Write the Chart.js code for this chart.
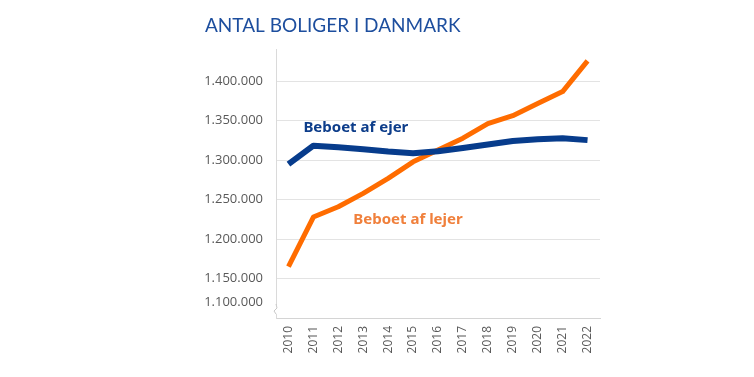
<!DOCTYPE html>
<html>
<head>
<meta charset="utf-8">
<script src="https://cdn.jsdelivr.net/npm/chart.js@4"></script>
<style>
  html, body { margin: 0; padding: 0; background: #fff; }
  #wrap { width: 754px; height: 377px; }
</style>
</head>
<body>
<div id="wrap"><canvas id="boligChart" width="754" height="377"></canvas></div>
<script>
const years = ["2010", "2011", "2012", "2013", "2014", "2015", "2016", "2017", "2018", "2019", "2020", "2021", "2022"];
const ejer = [1295000, 1318500, 1316500, 1314000, 1311000, 1309000, 1311500, 1315500, 1320000, 1324500, 1326500, 1328000, 1325500];
const lejer = [1165000, 1228000, 1241000, 1258000, 1277000, 1298000, 1313000, 1328000, 1346500, 1356500, 1372000, 1387000, 1426000];
const yTicks = [1150000, 1200000, 1250000, 1300000, 1350000, 1400000];
// the axis is broken below 1.150.000, the 1.100.000 label sits just under it
const breakTick = 1120000;
const breakLabel = "1.100.000";

const BLUE = "#073c8c";
const ORANGE = "#ff6c00";

function danishNumber(v) {
    return v.toString().replace(/\B(?=(\d{3})+(?!\d))/g, ".");
}

// series names written next to the lines, plus the little zigzag on the axis
const labelsPlugin = {
    id: 'seriesLabels',
    afterDatasetsDraw(chart) {
        const ctx = chart.ctx;
        const x = chart.scales.x;
        const y = chart.scales.y;
        ctx.save();
        ctx.textBaseline = 'middle';
        ctx.textAlign = 'left';
        ctx.font = 'bold 15px "Noto Sans"';
        ctx.fillStyle = "#0d3d8a";
        ctx.fillText("Beboet af ejer", x.getPixelForValue(1) - 10, y.getPixelForValue(1341000));
        ctx.fillStyle = "#f0803c";
        ctx.fillText("Beboet af lejer", x.getPixelForValue(2) + 15, y.getPixelForValue(1224000));

        // axis break
        const ax = chart.chartArea.left;
        const by = chart.chartArea.bottom - 8;
        ctx.fillStyle = "#fff";
        ctx.fillRect(ax - 3, by - 5, 6, 9);
        ctx.strokeStyle = "#c8c8c8";
        ctx.lineWidth = 1;
        ctx.beginPath();
        ctx.moveTo(ax, by - 6);
        ctx.lineTo(ax + 1, by - 2);
        ctx.lineTo(ax - 2, by + 1);
        ctx.lineTo(ax, by + 4);
        ctx.stroke();
        ctx.restore();
    }
};

var ctx = document.getElementById("boligChart").getContext("2d");
var boligChart = new Chart(ctx, {
    type: 'line',
    data: {
        labels: years,
        datasets: [{
            label: 'Beboet af ejer',
            data: ejer,
            borderColor: BLUE,
            borderWidth: 6,
            pointRadius: 0,
            fill: false
        }, {
            label: 'Beboet af lejer',
            data: lejer,
            borderColor: ORANGE,
            borderWidth: 5,
            pointRadius: 0,
            fill: false
        }]
    },
    options: {
        responsive: false,
        animation: false,
        layout: {
            padding: { left: 205, right: 154, top: 0, bottom: 0 }
        },
        elements: {
            line: { tension: 0, borderJoinStyle: 'round', borderCapStyle: 'butt' }
        },
        scales: {
            x: {
                offset: true,
                grid: { display: false, drawTicks: false },
                border: { display: true, color: '#d4d4d4', width: 1 },
                ticks: {
                    color: '#595959',
                    font: { family: 'Open Sans', size: 12 },
                    maxRotation: 90,
                    minRotation: 90,
                    padding: 8,
                    autoSkip: false
                },
                afterFit: function(scale) { scale.height = 59; }
            },
            y: {
                min: 1100000,
                max: 1440000,
                grid: {
                    drawTicks: false,
                    color: function(c) { return c.tick && c.tick.value === breakTick ? 'rgba(0,0,0,0)' : '#e3e3e3'; },
                    lineWidth: 1
                },
                border: { display: true, color: '#dadada', width: 1 },
                ticks: {
                    color: '#595959',
                    font: { family: 'Open Sans', size: 13 },
                    padding: 13,
                    callback: function(v) { return v === breakTick ? breakLabel : danishNumber(v); }
                },
                afterBuildTicks: function(scale) {
                    scale.ticks = [breakTick].concat(yTicks).map(v => ({ value: v }));
                },
                afterFit: function(scale) { scale.width = 71; }
            }
        },
        plugins: {
            legend: { display: false },
            tooltip: { enabled: false },
            title: {
                display: true,
                text: 'ANTAL BOLIGER I DANMARK',
                align: 'start',
                color: '#1d4e9e',
                font: { family: 'Lato', size: 19, weight: 'normal' },
                padding: { top: 14, bottom: 13 }
            }
        }
    },
    plugins: [labelsPlugin]
});
</script>
</body>
</html>
